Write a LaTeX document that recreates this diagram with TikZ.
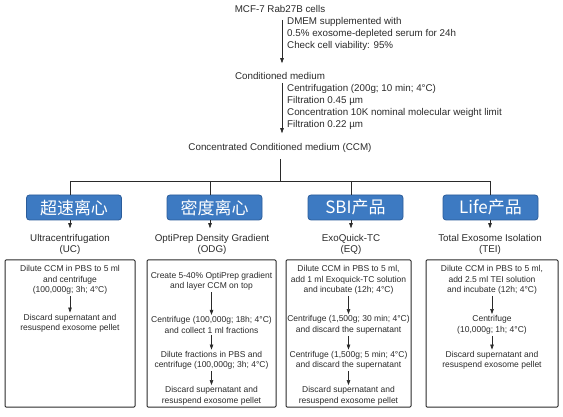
\documentclass[tikz,border=0pt]{standalone}
\usepackage{fontspec}
\setmainfont{Liberation Sans}
\newfontfamily\cjk{Noto Sans CJK SC}
\usetikzlibrary{arrows.meta}
\usetikzlibrary{calc}
\usepackage{xcolor}
\definecolor{methodblue}{HTML}{3D7AC2}
\definecolor{methodedge}{HTML}{2B5C9A}
\definecolor{inkgray}{HTML}{2A2A2A}

\tikzset{
  flowtext/.style={font=\fontsize{9.8}{12}\selectfont,text=inkgray,inner sep=1pt},
  method/.style={draw=methodedge,fill=methodblue,rounded corners=3pt,line width=0.8pt,
    minimum width=95pt,minimum height=25pt,inner sep=0pt,text=white,font=\cjk\fontsize{17}{17}\selectfont},
  kitlabel/.style={align=center,font=\fontsize{9.8}{11}\selectfont,text=inkgray,inner sep=1pt},
  panel/.style={draw=inkgray,line width=1pt,rounded corners=1pt,minimum height=147pt,inner sep=0pt},
  steptext/.style={align=center,font=\fontsize{8.5}{10.5}\selectfont,text=inkgray,inner sep=1.5pt},
  flow/.style={draw=inkgray,line width=0.6pt,-{Triangle[width=3.5pt,length=5pt]}},
  branch/.style={draw=inkgray,line width=0.8pt},
}

\begin{document}
\begin{tikzpicture}[x=1pt,y=-1pt]
    \useasboundingbox (0,0) rectangle (563,417);

    % preparation of the medium
    \node[flowtext] (mcf) at (280,9) {MCF-7 Rab27B cells};
    \node[flowtext] (cond) at (280,76) {Conditioned medium};
    \node[flowtext] (ccm) at (280,148) {Concentrated Conditioned medium (CCM)};
    \node[flowtext,align=left,anchor=west] (culture) at (286,34) {DMEM supplemented with\\0.5\% exosome-depleted serum for 24h\\Check cell viability: 95\%};
    \node[flowtext,align=left,anchor=west] (filter) at (286,107) {Centrifugation (200g; 10 min; 4°C)\\Filtration 0.45 µm\\Concentration 10K nominal molecular weight limit\\Filtration 0.22 µm};
    \draw[flow,shorten <=6pt,shorten >=8pt] ([xshift=2pt]mcf.south) -- ([xshift=2pt]cond.north);
    \draw[flow,shorten <=2pt,shorten >=9pt] ([xshift=2pt]cond.south) -- ([xshift=2pt]ccm.north);

    % split into the four methods
    \coordinate (hub) at (280,181);
    \coordinate (bUC) at (70,181);
    \coordinate (bODG) at (210,181);
    \coordinate (bEQ) at (351,181);
    \coordinate (bTEI) at (490,181);
    \draw[branch,shorten <=5pt] (ccm.south) -- (hub);
    \draw[branch] (bUC) -- (bTEI);

    \node[method] (uc) at (74,207.5) {超速离心};
    \node[method] (odg) at (214.5,207.5) {密度离心};
    \node[method] (eq) at (355.5,207.5) {SBI产品};
    \node[method] (tei) at (490.5,207.5) {Life产品};
    \draw[branch] (bUC) -- (bUC |- uc.north);
    \draw[branch] (bODG) -- (bODG |- odg.north);
    \draw[branch] (bEQ) -- (bEQ |- eq.north);
    \draw[branch] (bTEI) -- (bTEI |- tei.north);

    \node[kitlabel] (ucname) at (70,244.5) {Ultracentrifugation\\(UC)};
    \node[kitlabel] (odgname) at (212,244.5) {OptiPrep Density Gradient\\(ODG)};
    \node[kitlabel] (eqname) at (351,244.5) {ExoQuick-TC\\(EQ)};
    \node[kitlabel] (teiname) at (490,244.5) {Total Exosome Isolation\\(TEI)};
    \draw[flow,shorten >=5pt] (bUC |- uc.south) -- (bUC |- ucname.north);
    \draw[flow,shorten >=5pt] (bODG |- odg.south) -- (bODG |- odgname.north);
    \draw[flow,shorten >=5pt] (bEQ |- eq.south) -- (bEQ |- eqname.north);
    \draw[flow,shorten >=5pt] (bTEI |- tei.south) -- (bTEI |- teiname.north);

    % protocol panels
    \node[panel,minimum width=130pt] (ucpanel) at (70,333.5) {};
    \node[panel,minimum width=129pt] (odgpanel) at (211.5,333.5) {};
    \node[panel,minimum width=125pt] (eqpanel) at (348.5,333.5) {};
    \node[panel,minimum width=132pt] (teipanel) at (492,333.5) {};

    \node[steptext] (uc1) at (70,280) {Dilute CCM in PBS to 5 ml\\and centrifuge\\(100,000g; 3h; 4°C)};
    \node[steptext] (uc2) at (70,323.5) {Discard supernatant and\\resuspend exosome pellet};
    \draw[flow] (uc1) -- (uc2);

    \node[steptext] (odg1) at (211.5,281.5) {Create 5-40\% OptiPrep gradient\\and layer CCM on top};
    \node[steptext] (odg2) at (211.5,325) {Centrifuge (100,000g; 18h; 4°C)\\and collect 1 ml fractions};
    \node[steptext] (odg3) at (211.5,360.5) {Dilute fractions in PBS and\\centrifuge (100,000g; 3h; 4°C)};
    \node[steptext] (odg4) at (211.5,396) {Discard supernatant and\\resuspend exosome pellet};
    \draw[flow] (odg1) -- (odg2);
    \draw[flow] (odg2) -- (odg3);
    \draw[flow] (odg3) -- (odg4);

    \node[steptext] (eq1) at (348.5,280) {Dilute CCM in PBS to 5 ml,\\add 1 ml Exoquick-TC solution\\and incubate (12h; 4°C)};
    \node[steptext] (eq2) at (348.5,325) {Centrifuge (1,500g; 30 min; 4°C)\\and discard the supernatant};
    \node[steptext] (eq3) at (348.5,360.5) {Centrifuge (1,500g; 5 min; 4°C)\\and discard the supernatant};
    \node[steptext] (eq4) at (348.5,396) {Discard supernatant and\\resuspend exosome pellet};
    \draw[flow] (eq1) -- (eq2);
    \draw[flow] (eq2) -- (eq3);
    \draw[flow] (eq3) -- (eq4);

    \node[steptext] (tei1) at (492,280) {Dilute CCM in PBS to 5 ml,\\add 2.5 ml TEI solution\\and incubate (12h; 4°C)};
    \node[steptext] (tei2) at (492,325) {Centrifuge\\(10,000g; 1h; 4°C)};
    \node[steptext] (tei3) at (492,360.5) {Discard supernatant and\\resuspend exosome pellet};
    \draw[flow] (tei1) -- (tei2);
    \draw[flow] (tei2) -- (tei3);
\end{tikzpicture}
\end{document}
